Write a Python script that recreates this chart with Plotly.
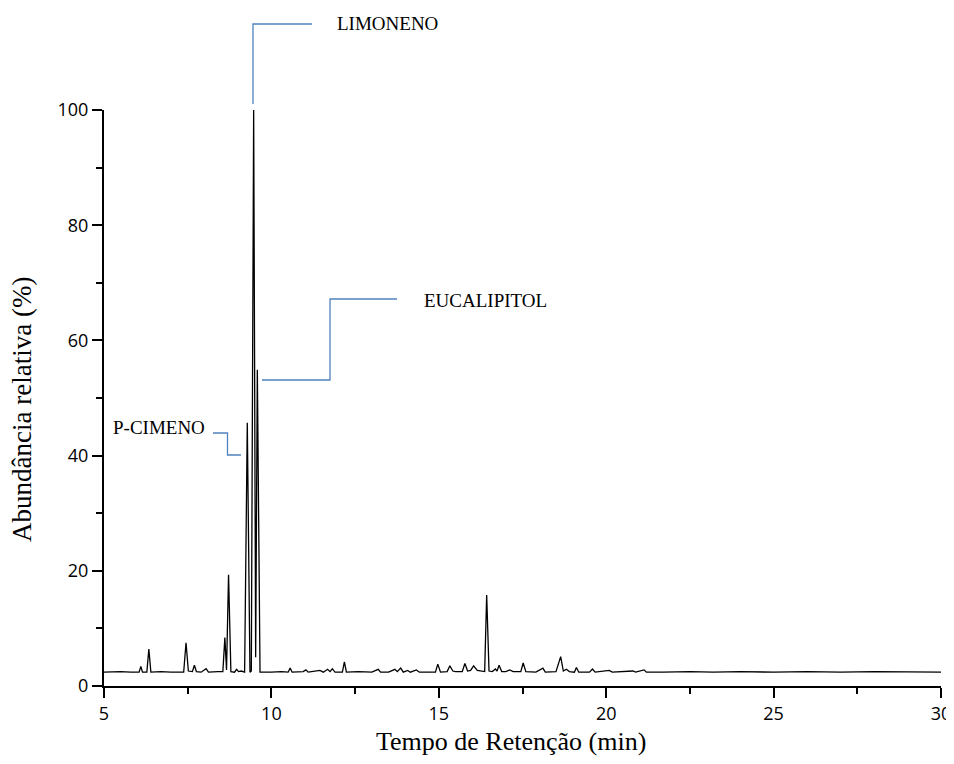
'''
    Chromatogram (GC-MS) of an essential oil with the three main compounds labelled.
'''
import plotly.graph_objects as go

# Retention time (min) and relative abundance (%)
retention_time = [
    5.00, 5.50, 5.80, 6.05, 6.10, 6.15, 6.28, 6.34, 6.40, 6.70, 7.00, 7.38, 7.45, 7.52,
    7.64, 7.70, 7.76, 7.90, 8.05, 8.12, 8.40, 8.55, 8.61, 8.66, 8.72, 8.79, 8.90, 8.96,
    9.02, 9.10, 9.20, 9.28, 9.36, 9.40, 9.47, 9.53, 9.58, 9.66, 10.00, 10.30, 10.50,
    10.56, 10.62, 10.95, 11.03, 11.10, 11.45, 11.55, 11.68, 11.75, 11.82, 11.90, 12.12,
    12.18, 12.24, 12.60, 13.00, 13.19, 13.26, 13.50, 13.69, 13.76, 13.86, 13.94, 14.07,
    14.15, 14.33, 14.42, 14.90, 14.97, 15.05, 15.25, 15.33, 15.42, 15.50, 15.70, 15.78,
    15.86, 15.95, 16.04, 16.15, 16.37, 16.43, 16.50, 16.60, 16.69, 16.74, 16.80, 16.88,
    17.00, 17.12, 17.22, 17.45, 17.52, 17.60, 17.90, 18.11, 18.18, 18.50, 18.64, 18.72,
    18.81, 18.90, 19.05, 19.11, 19.18, 19.50, 19.59, 19.67, 20.09, 20.18, 20.80, 20.88,
    21.13, 21.20, 21.60, 21.70, 22.50, 23.20, 24.00, 25.00, 26.00, 27.00, 28.00, 29.00,
    30.00,
]
abundance = [
    2.4, 2.5, 2.4, 2.4, 3.4, 2.4, 2.4, 6.4, 2.4, 2.5, 2.4, 2.4, 7.5, 2.6,
    2.5, 3.6, 2.5, 2.4, 3.0, 2.4, 2.5, 2.5, 8.4, 2.8, 19.3, 2.5, 2.4, 2.9,
    2.5, 2.6, 2.4, 45.7, 2.4, 2.6, 100.0, 5.0, 54.9, 2.4, 2.4, 2.5, 2.4,
    3.1, 2.4, 2.5, 2.8, 2.4, 2.7, 2.4, 2.9, 2.5, 3.0, 2.4, 2.4,
    4.2, 2.4, 2.5, 2.4, 2.9, 2.4, 2.4, 2.9, 2.5, 3.1, 2.4, 2.7,
    2.4, 2.8, 2.4, 2.4, 3.8, 2.4, 2.5, 3.5, 2.6, 2.5, 2.5, 3.9,
    2.6, 2.7, 3.5, 2.7, 2.5, 15.8, 2.6, 2.5, 2.95, 2.6, 3.6, 2.5,
    2.5, 2.8, 2.5, 2.5, 4.0, 2.5, 2.4, 3.1, 2.4, 2.5, 5.1, 2.6,
    2.9, 2.5, 2.4, 3.2, 2.4, 2.4, 2.95, 2.4, 2.7, 2.4, 2.6, 2.4,
    2.8, 2.4, 2.5, 2.4, 2.5, 2.4, 2.5, 2.4, 2.5, 2.4, 2.5, 2.4,
    2.4,
]

x_ticks = [5, 10, 15, 20, 25, 30]
y_ticks = [0, 20, 40, 60, 80, 100]

compound_names = ['LIMONENO', 'EUCALIPITOL', 'P-CIMENO']

# the page puts the figure 8px in from the top-left corner of the window
OFFSET = 8
# plot area in window pixels (left, right, top, bottom)
LEFT, RIGHT, TOP, BOTTOM = 104, 941, 110, 686
W, H = 954 - OFFSET, 764 - 2 * OFFSET
BLUE = '#4F81BD'
SERIF = 'Liberation Serif, Times New Roman, serif'


def px2paper(px, py):
    return (px - LEFT) / (RIGHT - LEFT), (BOTTOM - py) / (BOTTOM - TOP)


def callout_path(points):
    '''
        Builds an SVG path (paper coords) from a list of pixel points.
    '''
    parts = []
    for i, (px, py) in enumerate(points):
        x, y = px2paper(px, py)
        parts.append(('M' if i == 0 else 'L') + f'{x:.5f},{y:.5f}')
    return ' '.join(parts)


fig = go.Figure()
fig.add_trace(go.Scatter(
    x=retention_time, y=abundance, mode='lines',
    line=dict(color='black', width=1.3), showlegend=False,
))

# Callout lines from each compound peak to its label
callouts = [
    [(253, 104), (253, 24), (312, 24)],
    [(262, 380), (330, 380), (330, 299), (397, 299)],
    [(213, 433), (227.5, 433), (227.5, 455), (241, 455)],
]
for pts in callouts:
    fig.add_shape(type='path', xref='paper', yref='paper', path=callout_path(pts),
                  line=dict(color=BLUE, width=1.3))

label_pos = [(335, 24, 'left'), (422, 300, 'left'), (207, 428, 'right')]
for name, (px, py, anchor) in zip(compound_names, label_pos):
    x, y = px2paper(px, py)
    fig.add_annotation(x=x, y=y, xref='paper', yref='paper', text=name,
                       showarrow=False, xanchor=anchor, yanchor='middle',
                       font=dict(family=SERIF, size=19, color='black'))

# Axis titles
tx, ty = px2paper(511, 741)
fig.add_annotation(x=tx, y=ty, xref='paper', yref='paper', text='Tempo de Retenção (min)',
                   showarrow=False, xanchor='center', yanchor='middle',
                   font=dict(family=SERIF, size=26, color='black'))
tx, ty = px2paper(22, 410)
fig.add_annotation(x=tx, y=ty, xref='paper', yref='paper', text='Abundância relativa (%)',
                   showarrow=False, xanchor='center', yanchor='middle', textangle=-90,
                   font=dict(family=SERIF, size=27, color='black'))

axis_style = dict(
    showgrid=False, zeroline=False, showline=True, linecolor='black', linewidth=2,
    ticks='outside', ticklen=10, tickwidth=2, tickcolor='black', automargin=False,
    ticklabeloverflow='allow',
    tickfont=dict(family='Open Sans, sans-serif', size=18, color='black'),
    minor=dict(ticks='outside', ticklen=6, tickwidth=2, tickcolor='black'),
)
fig.update_xaxes(range=[5, 30], tickvals=x_ticks, **axis_style)
fig.update_xaxes(minor_dtick=2.5, minor_tick0=5)
fig.update_yaxes(range=[0, 100], tickvals=y_ticks, **axis_style)
fig.update_yaxes(minor_dtick=10, minor_tick0=0)

fig.update_layout(
    width=W, height=H,
    margin=dict(l=LEFT - OFFSET, r=OFFSET + W - RIGHT, t=TOP - OFFSET,
                b=OFFSET + H - BOTTOM),
    paper_bgcolor='white', plot_bgcolor='white',
)

fig.write_html('out.html')
